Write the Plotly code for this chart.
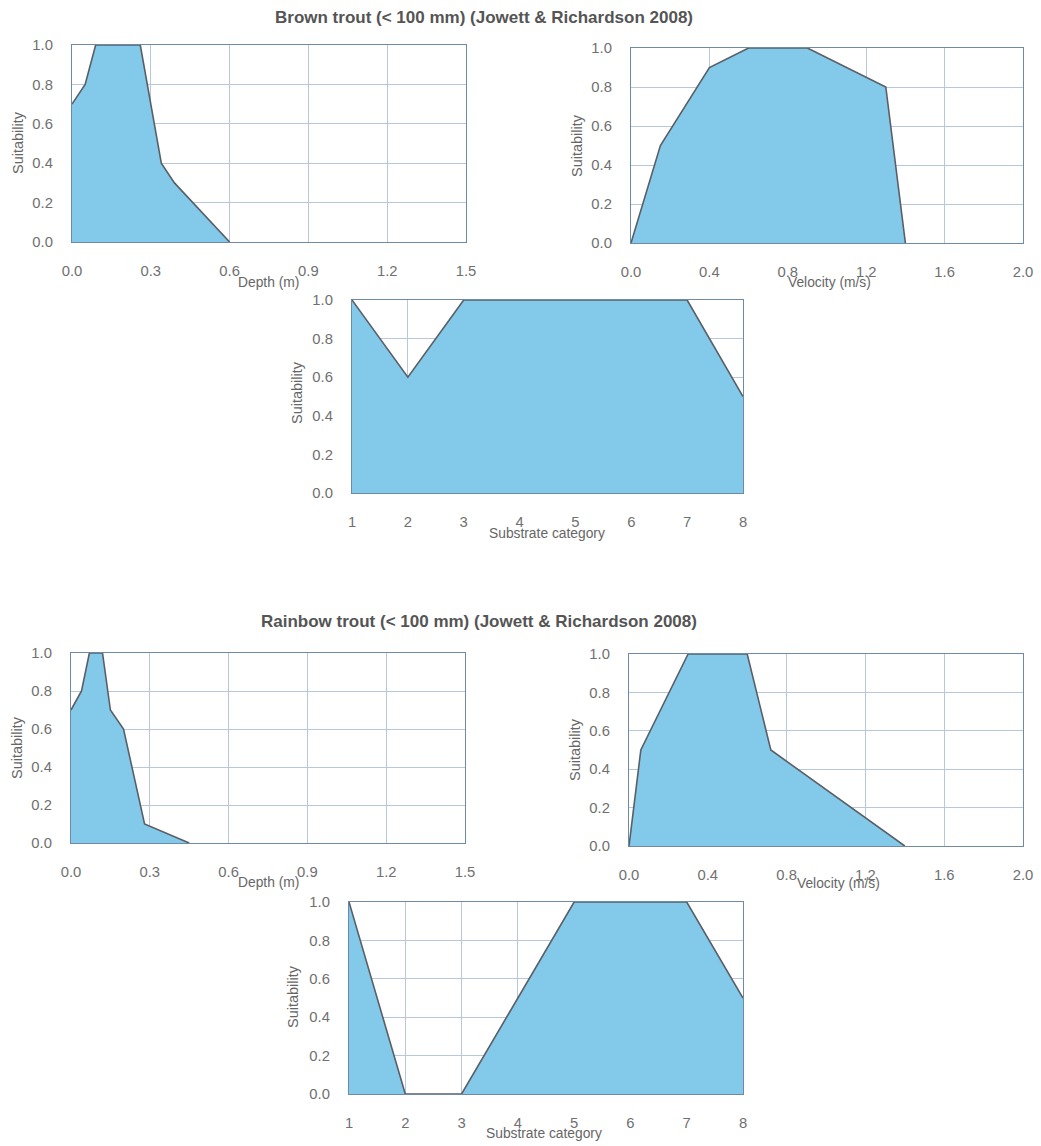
import plotly.graph_objects as go

W, H = 1041, 1146

# ---------------- data ----------------
bt_depth_x = [0, 0.05, 0.09, 0.26, 0.34, 0.39, 0.6]
bt_depth_y = [0.7, 0.8, 1.0, 1.0, 0.4, 0.3, 0.0]

bt_vel_x = [0, 0.15, 0.4, 0.6, 0.9, 1.3, 1.4]
bt_vel_y = [0, 0.5, 0.9, 1.0, 1.0, 0.8, 0.0]

substrate = [1, 2, 3, 4, 5, 6, 7, 8]
bt_sub = [1.0, 0.6, 1.0, 1.0, 1.0, 1.0, 1.0, 0.5]

rt_depth_x = [0, 0.04, 0.07, 0.12, 0.15, 0.2, 0.28, 0.45]
rt_depth_y = [0.7, 0.8, 1.0, 1.0, 0.7, 0.6, 0.1, 0.0]

rt_vel_x = [0, 0.06, 0.3, 0.6, 0.72, 1.4]
rt_vel_y = [0, 0.5, 1.0, 1.0, 0.5, 0.0]

rt_sub = [1.0, 0.0, 0.0, 0.5, 1.0, 1.0, 1.0, 0.5]

depth_ticks = [0.0, 0.3, 0.6, 0.9, 1.2, 1.5]
vel_ticks = [0.0, 0.4, 0.8, 1.2, 1.6, 2.0]
suit_ticks = [0.0, 0.2, 0.4, 0.6, 0.8, 1.0]

titles = ["Brown trout (< 100 mm) (Jowett & Richardson 2008)",
          "Rainbow trout (< 100 mm) (Jowett & Richardson 2008)"]

# ---------------- style ----------------
FILL = "#82c9ea"
EDGE = "#5a5f66"
FRAME = "#6f8aa6"
GRID = "#b6c8da"
TICKC = "#707070"
FONT = "Liberation Sans, Arial, sans-serif"

def px_x(p):
    return p / W

def px_y(p):
    return 1 - p / H

# panel geometry in reference pixels: (left, top, right, bottom)
panels = [
    dict(box=(72, 45, 466, 242), x=bt_depth_x, y=bt_depth_y, rng=[0, 1.5], ticks=depth_ticks, fmt=".1f",
         xt="Depth (m)", xtpos=(268, 282), ytpos=(18, 143)),
    dict(box=(631, 48, 1023, 243), x=bt_vel_x, y=bt_vel_y, rng=[0, 2.0], ticks=vel_ticks, fmt=".1f",
         xt="Velocity (m/s)", xtpos=(829, 283), ytpos=(577, 146)),
    dict(box=(352, 300, 743, 493), x=substrate, y=bt_sub, rng=[1, 8], ticks=substrate, fmt="d",
         xt="Substrate category", xtpos=(547, 533), ytpos=(297, 393)),
    dict(box=(71, 653, 465, 843), x=rt_depth_x, y=rt_depth_y, rng=[0, 1.5], ticks=depth_ticks, fmt=".1f",
         xt="Depth (m)", xtpos=(268, 882), ytpos=(17, 748)),
    dict(box=(629, 654, 1023, 846), x=rt_vel_x, y=rt_vel_y, rng=[0, 2.0], ticks=vel_ticks, fmt=".1f",
         xt="Velocity (m/s)", xtpos=(838, 883), ytpos=(575, 750)),
    dict(box=(349, 902, 743, 1094), x=substrate, y=rt_sub, rng=[1, 8], ticks=substrate, fmt="d",
         xt="Substrate category", xtpos=(544, 1133), ytpos=(293, 997)),
]

fig = go.Figure()
layout = {}
annotations = []

for i, p in enumerate(panels, start=1):
    sfx = "" if i == 1 else str(i)
    l, t, r, b = p["box"]
    fig.add_trace(go.Scatter(
        x=p["x"], y=p["y"], mode="lines", fill="tozeroy",
        fillcolor=FILL, line=dict(color=EDGE, width=1.6),
        xaxis="x" + sfx, yaxis="y" + sfx, showlegend=False, hoverinfo="x+y"))
    layout["xaxis" + sfx] = dict(
        domain=[px_x(l), px_x(r)], anchor="y" + sfx, range=p["rng"],
        tickmode="array", tickvals=p["ticks"], tickformat=p["fmt"],
        showgrid=True, gridcolor=GRID, gridwidth=1,
        showline=True, linecolor=FRAME, linewidth=1.2, mirror=True,
        ticks="outside", ticklen=15, tickcolor="rgba(0,0,0,0)",
        tickfont=dict(family=FONT, size=14.8, color=TICKC),
        zeroline=False, fixedrange=True, automargin=False)
    layout["yaxis" + sfx] = dict(
        domain=[px_y(b), px_y(t)], anchor="x" + sfx, range=[0, 1.0],
        tickmode="array", tickvals=suit_ticks, tickformat=".1f",
        showgrid=True, gridcolor=GRID, gridwidth=1,
        showline=True, linecolor=FRAME, linewidth=1.2, mirror=True,
        ticks="outside", ticklen=15, tickcolor="rgba(0,0,0,0)",
        tickfont=dict(family=FONT, size=14.8, color=TICKC),
        zeroline=False, fixedrange=True, automargin=False)
    ax, ay = p["xtpos"]
    annotations.append(dict(text=p["xt"], x=px_x(ax), y=px_y(ay), xref="paper", yref="paper",
                            xanchor="center", yanchor="middle", showarrow=False,
                            font=dict(family=FONT, size=13.8, color="#666666")))
    sx, sy = p["ytpos"]
    annotations.append(dict(text="Suitability", x=px_x(sx), y=px_y(sy), xref="paper", yref="paper",
                            xanchor="center", yanchor="middle", showarrow=False, textangle=-90,
                            font=dict(family=FONT, size=14.5, color="#666666")))

def esc(s):
    return s.replace("&", "&amp;").replace("<", "&lt;")

annotations.append(dict(text="<b>" + esc(titles[0]) + "</b>",
                        x=px_x(484), y=px_y(18), xref="paper", yref="paper",
                        xanchor="center", yanchor="middle", showarrow=False,
                        font=dict(family=FONT, size=17, color="#555555")))
annotations.append(dict(text="<b>" + esc(titles[1]) + "</b>",
                        x=px_x(479), y=px_y(621), xref="paper", yref="paper",
                        xanchor="center", yanchor="middle", showarrow=False,
                        font=dict(family=FONT, size=17, color="#555555")))

fig.update_layout(**layout)
fig.update_layout(
    width=W, height=H, margin=dict(l=0, r=0, t=0, b=0, autoexpand=False),
    paper_bgcolor="white", plot_bgcolor="white",
    annotations=annotations, showlegend=False)

fig.write_html("out.html")
